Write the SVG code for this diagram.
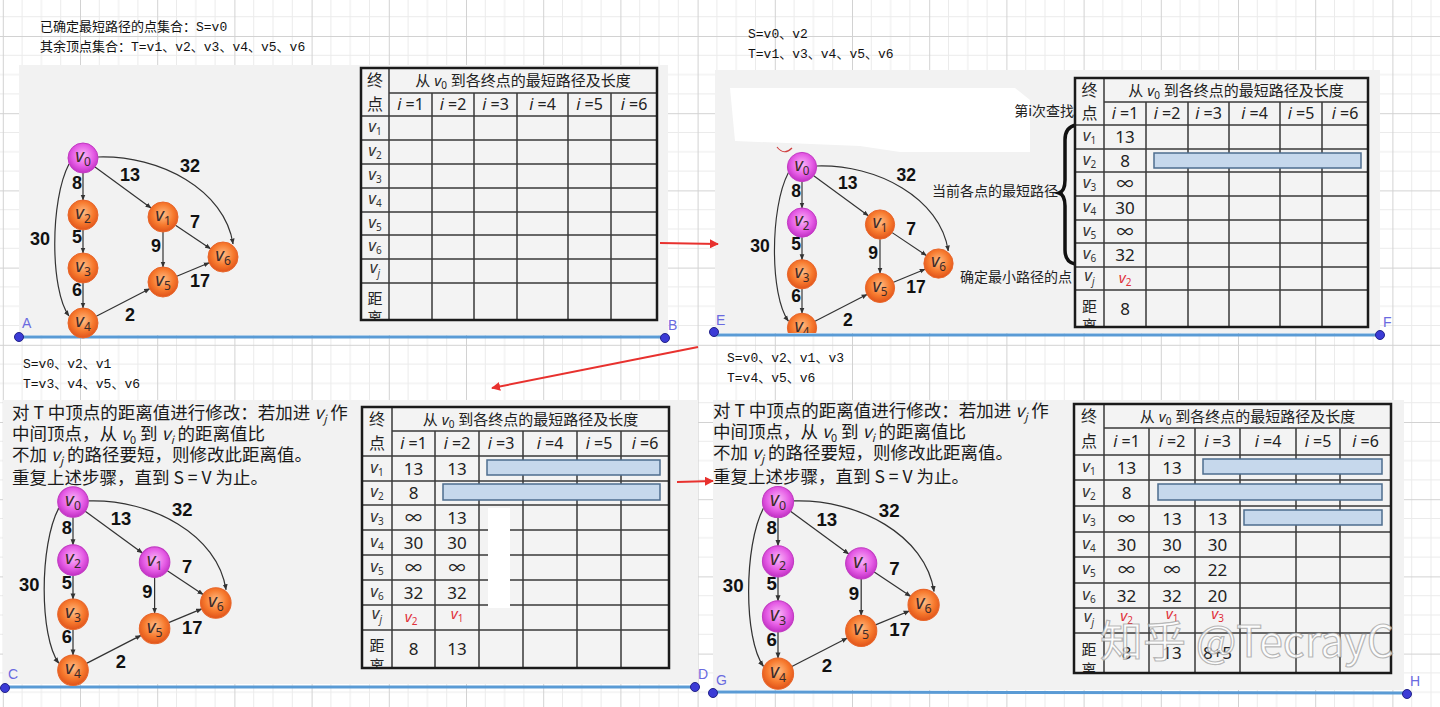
<svg xmlns="http://www.w3.org/2000/svg" width="1440" height="707" viewBox="0 0 1440 707">
<defs>
<style>
.panel{fill:#f2f2f2}
.mono{font-family:"Liberation Mono","Noto Sans CJK SC",monospace;font-size:13px;fill:#111}
.tbg{fill:#f3f3f3}
.tl{stroke:#3a3a3a;stroke-width:1.5;fill:none}
.tb{fill:none;stroke:#1a1a1a;stroke-width:2.5}
.th{font-family:"Noto Sans","Noto Sans CJK SC",sans-serif;font-size:16px;fill:#222;text-anchor:middle}
.tt{font-family:"Noto Sans","Noto Sans CJK SC",sans-serif;font-size:15px;fill:#222;text-anchor:middle}
.td{font-family:"Noto Sans","Noto Sans CJK SC",sans-serif;font-size:17px;fill:#222;text-anchor:middle}
.rl{font-family:"Noto Sans",sans-serif;font-style:italic;font-size:16.5px;fill:#333;text-anchor:middle}
.rv{font-family:"Noto Sans",sans-serif;font-style:italic;font-size:15px;fill:#e0303a;text-anchor:middle}
.bar{fill:#c6d8ec;stroke:#4d6d8f;stroke-width:1.5}
.edge{stroke:#333;stroke-width:1.2;fill:none;marker-end:url(#ah)}
.wt{font-family:"Liberation Sans",Arial,sans-serif;font-weight:bold;font-size:18px;text-anchor:middle;fill:#111}
.nm{fill:url(#gm);stroke:#c23ac2;stroke-width:1}
.no{fill:url(#go);stroke:#e8662a;stroke-width:1}
.nl{font-family:"Noto Sans","DejaVu Sans",sans-serif;font-style:italic;font-size:18.5px;fill:#3a2a2a;text-anchor:middle}
.para{font-family:"Noto Sans CJK SC","Noto Sans",sans-serif;font-size:17.5px;fill:#1a1a1a}
.ann{font-family:"Noto Sans CJK SC",sans-serif;font-size:14px;fill:#222;text-anchor:end}
.axis{stroke:#5a9bd5;stroke-width:3}
.dot{fill:#3b3bd6;stroke:#22228a;stroke-width:1}
.pl{font-family:"Liberation Sans",Arial,sans-serif;font-size:14px;fill:#6a6ae0}
.red{stroke:#e8312e;stroke-width:2;fill:none;marker-end:url(#rah)}
</style>
<pattern id="grid" width="77.2" height="77.2" patternUnits="userSpaceOnUse" x="80" y="36">
<path d="M19.3 0V77.2M38.6 0V77.2M57.9 0V77.2M0 19.3H77.2M0 38.6H77.2M0 57.9H77.2" stroke="#ebebeb" stroke-width="1"/>
<path d="M0.5 0V77.2M0 0.5H77.2" stroke="#d2d2d2" stroke-width="1"/>
</pattern>
<radialGradient id="gm" cx="50%" cy="42%" r="58%">
<stop offset="0" stop-color="#f9b8f7"/><stop offset="0.6" stop-color="#e65ee6"/><stop offset="1" stop-color="#c12fc4"/>
</radialGradient>
<radialGradient id="go" cx="50%" cy="42%" r="58%">
<stop offset="0" stop-color="#ffbd85"/><stop offset="0.6" stop-color="#f77a2e"/><stop offset="1" stop-color="#e0531a"/>
</radialGradient>
<linearGradient id="rg" gradientUnits="userSpaceOnUse" x1="698" y1="347" x2="492" y2="388">
<stop offset="0" stop-color="#e8312e" stop-opacity="0.1"/><stop offset="0.5" stop-color="#e8312e" stop-opacity="0.85"/><stop offset="1" stop-color="#e8312e"/>
</linearGradient>
<marker id="ah" viewBox="0 0 10 10" refX="9" refY="5" markerWidth="5" markerHeight="5" orient="auto"><path d="M0,1 L10,5 L0,9 z" fill="#333"/></marker>
<marker id="rah" viewBox="0 0 10 10" refX="9" refY="5" markerWidth="4.5" markerHeight="4.5" orient="auto"><path d="M0,0 L10,5 L0,10 z" fill="#e8312e"/></marker>
<clipPath id="ct1"><rect x="361" y="68" width="296" height="252"/></clipPath>
<clipPath id="ct2"><rect x="1075" y="78" width="293" height="249"/></clipPath>
<clipPath id="ct3"><rect x="362" y="407" width="307" height="261"/></clipPath>
<clipPath id="ct4"><rect x="1074" y="404" width="317" height="269"/></clipPath>
<clipPath id="cg2"><rect x="715" y="70" width="665" height="263"/></clipPath>
</defs>

<rect width="1440" height="707" fill="#ffffff"/>
<rect width="1440" height="707" fill="url(#grid)"/>

<!-- panels -->
<rect class="panel" x="19" y="65" width="649" height="270"/>
<rect class="panel" x="715" y="70" width="665" height="263"/>
<rect class="panel" x="3" y="400" width="695" height="284"/>
<rect class="panel" x="713" y="400" width="691" height="290"/>
<polygon points="730,88 1015,88 1030,100 1030,152 900,152 860,146 735,141" fill="#ffffff"/>

<!-- set texts -->
<text class="mono" x="40" y="31" font-size="14">已确定最短路径的点集合：S=v0</text>
<text class="mono" x="40" y="51" font-size="14">其余顶点集合：T=v1、v2、v3、v4、v5、v6</text>
<text class="mono" x="748" y="38">S=v0、v2</text>
<text class="mono" x="748" y="58">T=v1、v3、v4、v5、v6</text>
<text class="mono" x="23" y="368">S=v0、v2、v1</text>
<text class="mono" x="23" y="388">T=v3、v4、v5、v6</text>
<text class="mono" x="727" y="362">S=v0、v2、v1、v3</text>
<text class="mono" x="727" y="382">T=v4、v5、v6</text>

<!-- paragraphs -->
<g id="para3">
<text class="para" x="12" y="419">对 T 中顶点的距离值进行修改：若加进 <tspan font-style="italic">v</tspan><tspan font-size="11" dy="4" font-style="italic">j</tspan><tspan dy="-4"> 作</tspan></text>
<text class="para" x="12" y="440">中间顶点，从 <tspan font-style="italic">v</tspan><tspan font-size="11" dy="4">0</tspan><tspan dy="-4"> 到 </tspan><tspan font-style="italic">v</tspan><tspan font-size="11" dy="4" font-style="italic">i</tspan><tspan dy="-4"> 的距离值比</tspan></text>
<text class="para" x="12" y="461">不加 <tspan font-style="italic">v</tspan><tspan font-size="11" dy="4" font-style="italic">j</tspan><tspan dy="-4"> 的路径要短，则修改此距离值。</tspan></text>
<text class="para" x="12" y="484">重复上述步骤，直到 S = V 为止。</text>
</g>
<g id="para4">
<text class="para" x="713" y="417">对 T 中顶点的距离值进行修改：若加进 <tspan font-style="italic">v</tspan><tspan font-size="11" dy="4" font-style="italic">j</tspan><tspan dy="-4"> 作</tspan></text>
<text class="para" x="713" y="438">中间顶点，从 <tspan font-style="italic">v</tspan><tspan font-size="11" dy="4">0</tspan><tspan dy="-4"> 到 </tspan><tspan font-style="italic">v</tspan><tspan font-size="11" dy="4" font-style="italic">i</tspan><tspan dy="-4"> 的距离值比</tspan></text>
<text class="para" x="713" y="459">不加 <tspan font-style="italic">v</tspan><tspan font-size="11" dy="4" font-style="italic">j</tspan><tspan dy="-4"> 的路径要短，则修改此距离值。</tspan></text>
<text class="para" x="713" y="483">重复上述步骤，直到 S = V 为止。</text>
</g>

<!-- annotations panel 2 -->
<g id="annotations">
<text class="ann" x="1074" y="116">第i次查找</text>
<text class="ann" x="1058" y="196">当前各点的最短路径</text>
<text class="ann" x="1072" y="282">确定最小路径的点</text>
<path d="M1076 125 Q1065 127 1065 140 L1065 180 Q1065 191 1059 193 Q1065 195 1065 206 L1065 250 Q1065 262 1075 264" fill="none" stroke="#111" stroke-width="3.5"/>
<path d="M777 147 Q784 156 792 148" fill="none" stroke="#d04040" stroke-width="1.2"/>
</g>

<!-- axis lines -->
<g id="axes">
<line class="axis" x1="19" y1="337" x2="665" y2="337"/>
<line class="axis" x1="714" y1="335" x2="1380" y2="335"/>
<line class="axis" x1="5" y1="687" x2="695" y2="687"/>
<line class="axis" x1="713" y1="692" x2="1407" y2="693"/>
<circle class="dot" cx="19" cy="337" r="4.5"/><text class="pl" x="22" y="328">A</text>
<circle class="dot" cx="665" cy="338" r="4.5"/><text class="pl" x="668" y="330">B</text>
<circle class="dot" cx="714" cy="332" r="4.5"/><text class="pl" x="716" y="325">E</text>
<circle class="dot" cx="1380" cy="335" r="4.5"/><text class="pl" x="1383" y="327">F</text>
<circle class="dot" cx="5" cy="688" r="4.5"/><text class="pl" x="8" y="679">C</text>
<circle class="dot" cx="695" cy="687" r="4.5"/><text class="pl" x="698" y="679">D</text>
<circle class="dot" cx="713" cy="693" r="4.5"/><text class="pl" x="716" y="685">G</text>
<circle class="dot" cx="1407" cy="694" r="4.5"/><text class="pl" x="1410" y="686">H</text>
</g>

<!-- red connectors -->
<g id="connectors-red">
<line class="red" x1="660" y1="243" x2="718" y2="244"/>
<line class="red" x1="698" y1="347" x2="492" y2="388" stroke="url(#rg)"/>
<line class="red" x1="677" y1="482" x2="713" y2="481"/>
</g>

<!-- GRAPH 1 -->
<g id="graph1">
<g id="g1-edges">
<path class="edge" d="M83 173V200"/><path class="edge" d="M83 230V253"/><path class="edge" d="M83 283V308"/>
<path class="edge" d="M95 167L151 208"/><path class="edge" d="M163 232V267"/><path class="edge" d="M175.5 225.3L210.5 248.7"/>
<path class="edge" d="M176.8 276.2L209.2 262.8"/><path class="edge" d="M96.3 316.2L149.6 288.8"/>
<path class="edge" d="M98 157C160 155 225 190 233 244"/><path class="edge" d="M69 164C50 200 50 290 69 316"/>
</g>
<g id="g1-labels">
<text class="wt" x="77" y="189">8</text><text class="wt" x="130" y="181">13</text><text class="wt" x="190" y="172">32</text>
<text class="wt" x="40" y="245">30</text><text class="wt" x="77" y="243">5</text><text class="wt" x="195" y="228">7</text>
<text class="wt" x="156" y="252">9</text><text class="wt" x="77" y="296">6</text><text class="wt" x="200" y="287">17</text><text class="wt" x="130" y="321">2</text>
</g>
<g id="g1-v0"><circle class="nm" cx="83" cy="158" r="15"/><text class="nl" x="83" y="162">v<tspan font-size="12" dy="4" font-style="normal">0</tspan></text></g>
<g id="g1-v2"><circle class="no" cx="83" cy="215" r="15"/><text class="nl" x="83" y="219">v<tspan font-size="12" dy="4" font-style="normal">2</tspan></text></g>
<g id="g1-v3"><circle class="no" cx="83" cy="268" r="15"/><text class="nl" x="83" y="272">v<tspan font-size="12" dy="4" font-style="normal">3</tspan></text></g>
<g id="g1-v4"><circle class="no" cx="83" cy="323" r="15"/><text class="nl" x="83" y="327">v<tspan font-size="12" dy="4" font-style="normal">4</tspan></text></g>
<g id="g1-v1"><circle class="no" cx="163" cy="217" r="15"/><text class="nl" x="163" y="221">v<tspan font-size="12" dy="4" font-style="normal">1</tspan></text></g>
<g id="g1-v5"><circle class="no" cx="163" cy="282" r="15"/><text class="nl" x="163" y="286">v<tspan font-size="12" dy="4" font-style="normal">5</tspan></text></g>
<g id="g1-v6"><circle class="no" cx="223" cy="257" r="15"/><text class="nl" x="223" y="261">v<tspan font-size="12" dy="4" font-style="normal">6</tspan></text></g>
</g>

<!-- GRAPH 2 -->
<g id="graph2" clip-path="url(#cg2)">
<g transform="translate(802,167) scale(0.975) translate(-83,-158)">
<g id="g2-edges">
<path class="edge" d="M83 173V200"/><path class="edge" d="M83 230V253"/><path class="edge" d="M83 283V308"/>
<path class="edge" d="M95 167L151 208"/><path class="edge" d="M163 232V267"/><path class="edge" d="M175.5 225.3L210.5 248.7"/>
<path class="edge" d="M176.8 276.2L209.2 262.8"/><path class="edge" d="M96.3 316.2L149.6 288.8"/>
<path class="edge" d="M98 157C160 155 225 190 233 244"/><path class="edge" d="M69 164C50 200 50 290 69 316"/>
</g>
<g id="g2-labels">
<text class="wt" x="77" y="189">8</text><text class="wt" x="130" y="181">13</text><text class="wt" x="190" y="172">32</text>
<text class="wt" x="40" y="245">30</text><text class="wt" x="77" y="243">5</text><text class="wt" x="195" y="228">7</text>
<text class="wt" x="156" y="252">9</text><text class="wt" x="77" y="296">6</text><text class="wt" x="200" y="287">17</text><text class="wt" x="130" y="321">2</text>
</g>
<g id="g2-v0"><circle class="nm" cx="83" cy="158" r="15"/><text class="nl" x="83" y="162">v<tspan font-size="12" dy="4" font-style="normal">0</tspan></text></g>
<g id="g2-v2"><circle class="nm" cx="83" cy="215" r="15"/><text class="nl" x="83" y="219">v<tspan font-size="12" dy="4" font-style="normal">2</tspan></text></g>
<g id="g2-v3"><circle class="no" cx="83" cy="268" r="15"/><text class="nl" x="83" y="272">v<tspan font-size="12" dy="4" font-style="normal">3</tspan></text></g>
<g id="g2-v4"><circle class="no" cx="83" cy="323" r="15"/><text class="nl" x="83" y="327">v<tspan font-size="12" dy="4" font-style="normal">4</tspan></text></g>
<g id="g2-v1"><circle class="no" cx="163" cy="217" r="15"/><text class="nl" x="163" y="221">v<tspan font-size="12" dy="4" font-style="normal">1</tspan></text></g>
<g id="g2-v5"><circle class="no" cx="163" cy="282" r="15"/><text class="nl" x="163" y="286">v<tspan font-size="12" dy="4" font-style="normal">5</tspan></text></g>
<g id="g2-v6"><circle class="no" cx="223" cy="257" r="15"/><text class="nl" x="223" y="261">v<tspan font-size="12" dy="4" font-style="normal">6</tspan></text></g>
</g>
</g>

<!-- GRAPH 3 -->
<g id="graph3" transform="translate(73,502) scale(1.02) translate(-83,-158)">
<g id="g3-edges">
<path class="edge" d="M83 173V200"/><path class="edge" d="M83 230V253"/><path class="edge" d="M83 283V308"/>
<path class="edge" d="M95 167L151 208"/><path class="edge" d="M163 232V267"/><path class="edge" d="M175.5 225.3L210.5 248.7"/>
<path class="edge" d="M176.8 276.2L209.2 262.8"/><path class="edge" d="M96.3 316.2L149.6 288.8"/>
<path class="edge" d="M98 157C160 155 225 190 233 244"/><path class="edge" d="M69 164C50 200 50 290 69 316"/>
</g>
<g id="g3-labels">
<text class="wt" x="77" y="189">8</text><text class="wt" x="130" y="181">13</text><text class="wt" x="190" y="172">32</text>
<text class="wt" x="40" y="245">30</text><text class="wt" x="77" y="243">5</text><text class="wt" x="195" y="228">7</text>
<text class="wt" x="156" y="252">9</text><text class="wt" x="77" y="296">6</text><text class="wt" x="200" y="287">17</text><text class="wt" x="130" y="321">2</text>
</g>
<g id="g3-v0"><circle class="nm" cx="83" cy="158" r="15"/><text class="nl" x="83" y="162">v<tspan font-size="12" dy="4" font-style="normal">0</tspan></text></g>
<g id="g3-v2"><circle class="nm" cx="83" cy="215" r="15"/><text class="nl" x="83" y="219">v<tspan font-size="12" dy="4" font-style="normal">2</tspan></text></g>
<g id="g3-v3"><circle class="no" cx="83" cy="268" r="15"/><text class="nl" x="83" y="272">v<tspan font-size="12" dy="4" font-style="normal">3</tspan></text></g>
<g id="g3-v4"><circle class="no" cx="83" cy="323" r="15"/><text class="nl" x="83" y="327">v<tspan font-size="12" dy="4" font-style="normal">4</tspan></text></g>
<g id="g3-v1"><circle class="nm" cx="163" cy="217" r="15"/><text class="nl" x="163" y="221">v<tspan font-size="12" dy="4" font-style="normal">1</tspan></text></g>
<g id="g3-v5"><circle class="no" cx="163" cy="282" r="15"/><text class="nl" x="163" y="286">v<tspan font-size="12" dy="4" font-style="normal">5</tspan></text></g>
<g id="g3-v6"><circle class="no" cx="223" cy="257" r="15"/><text class="nl" x="223" y="261">v<tspan font-size="12" dy="4" font-style="normal">6</tspan></text></g>
</g>

<!-- GRAPH 4 -->
<g id="graph4" transform="translate(778,502) scale(1.04) translate(-83,-158)">
<g id="g4-edges">
<path class="edge" d="M83 173V200"/><path class="edge" d="M83 230V253"/><path class="edge" d="M83 283V308"/>
<path class="edge" d="M95 167L151 208"/><path class="edge" d="M163 232V267"/><path class="edge" d="M175.5 225.3L210.5 248.7"/>
<path class="edge" d="M176.8 276.2L209.2 262.8"/><path class="edge" d="M96.3 316.2L149.6 288.8"/>
<path class="edge" d="M98 157C160 155 225 190 233 244"/><path class="edge" d="M69 164C50 200 50 290 69 316"/>
</g>
<g id="g4-labels">
<text class="wt" x="77" y="189">8</text><text class="wt" x="130" y="181">13</text><text class="wt" x="190" y="172">32</text>
<text class="wt" x="40" y="245">30</text><text class="wt" x="77" y="243">5</text><text class="wt" x="195" y="228">7</text>
<text class="wt" x="156" y="252">9</text><text class="wt" x="77" y="296">6</text><text class="wt" x="200" y="287">17</text><text class="wt" x="130" y="321">2</text>
</g>
<g id="g4-v0"><circle class="nm" cx="83" cy="158" r="15"/><text class="nl" x="83" y="162">v<tspan font-size="12" dy="4" font-style="normal">0</tspan></text></g>
<g id="g4-v2"><circle class="nm" cx="83" cy="215" r="15"/><text class="nl" x="83" y="219">v<tspan font-size="12" dy="4" font-style="normal">2</tspan></text></g>
<g id="g4-v3"><circle class="nm" cx="83" cy="268" r="15"/><text class="nl" x="83" y="272">v<tspan font-size="12" dy="4" font-style="normal">3</tspan></text></g>
<g id="g4-v4"><circle class="no" cx="83" cy="323" r="15"/><text class="nl" x="83" y="327">v<tspan font-size="12" dy="4" font-style="normal">4</tspan></text></g>
<g id="g4-v1"><circle class="nm" cx="163" cy="217" r="15"/><text class="nl" x="163" y="221">v<tspan font-size="12" dy="4" font-style="normal">1</tspan></text></g>
<g id="g4-v5"><circle class="no" cx="163" cy="282" r="15"/><text class="nl" x="163" y="286">v<tspan font-size="12" dy="4" font-style="normal">5</tspan></text></g>
<g id="g4-v6"><circle class="no" cx="223" cy="257" r="15"/><text class="nl" x="223" y="261">v<tspan font-size="12" dy="4" font-style="normal">6</tspan></text></g>
</g>

<!-- TABLE 1 -->
<g id="table1">
<rect class="tbg" x="361" y="68" width="296" height="252"/>
<path class="tl" d="M389 93H657M361 116H657M361 140H657M361 164H657M361 188H657M361 212H657M361 235H657M361 259H657M361 283H657M389 68V320M432 93V320M474 93V320M517 93V320M568 93V320M611 93V320"/>
<text class="th" x="375" y="86">终</text><text class="th" x="375" y="110">点</text>
<text class="tt" x="523" y="86">从 <tspan font-style="italic">v</tspan><tspan font-size="10" dy="3">0</tspan><tspan dy="-3"> 到各终点的最短路径及长度</tspan></text>
<text class="th" x="410.5" y="110"><tspan font-style="italic">i</tspan> =1</text>
<text class="th" x="453" y="110"><tspan font-style="italic">i</tspan> =2</text>
<text class="th" x="495.5" y="110"><tspan font-style="italic">i</tspan> =3</text>
<text class="th" x="542.5" y="110"><tspan font-style="italic">i</tspan> =4</text>
<text class="th" x="589.5" y="110"><tspan font-style="italic">i</tspan> =5</text>
<text class="th" x="634" y="110"><tspan font-style="italic">i</tspan> =6</text>
<text class="rl" x="375" y="132">v<tspan font-size="10" dy="3" font-style="normal">1</tspan></text>
<text class="rl" x="375" y="156">v<tspan font-size="10" dy="3" font-style="normal">2</tspan></text>
<text class="rl" x="375" y="180">v<tspan font-size="10" dy="3" font-style="normal">3</tspan></text>
<text class="rl" x="375" y="204">v<tspan font-size="10" dy="3" font-style="normal">4</tspan></text>
<text class="rl" x="375" y="227.5">v<tspan font-size="10" dy="3" font-style="normal">5</tspan></text>
<text class="rl" x="375" y="251">v<tspan font-size="10" dy="3" font-style="normal">6</tspan></text>
<text class="rl" x="375" y="273">v<tspan font-size="10" dy="4">j</tspan></text>
<g clip-path="url(#ct1)"><text class="tt" x="375" y="304">距</text><text class="tt" x="375" y="323">离</text></g>
<rect class="tb" x="361" y="68" width="296" height="252"/>
</g>

<!-- TABLE 2 -->
<g id="table2">
<rect class="tbg" x="1075" y="78" width="293" height="249"/>
<path class="tl" d="M1104 102H1368M1075 125H1368M1075 149H1368M1075 172H1368M1075 196H1368M1075 220H1368M1075 243H1368M1075 267H1368M1075 290H1368M1104 78V327M1146 102V327M1188 102V327M1229 102V327M1280 102V327M1322 102V327"/>
<text class="th" x="1089.5" y="96">终</text><text class="th" x="1089.5" y="119">点</text>
<text class="tt" x="1236" y="96">从 <tspan font-style="italic">v</tspan><tspan font-size="10" dy="3">0</tspan><tspan dy="-3"> 到各终点的最短路径及长度</tspan></text>
<text class="th" x="1125" y="119"><tspan font-style="italic">i</tspan> =1</text>
<text class="th" x="1167" y="119"><tspan font-style="italic">i</tspan> =2</text>
<text class="th" x="1208.5" y="119"><tspan font-style="italic">i</tspan> =3</text>
<text class="th" x="1254.5" y="119"><tspan font-style="italic">i</tspan> =4</text>
<text class="th" x="1301" y="119"><tspan font-style="italic">i</tspan> =5</text>
<text class="th" x="1345" y="119"><tspan font-style="italic">i</tspan> =6</text>
<text class="rl" x="1089.5" y="141">v<tspan font-size="10" dy="3" font-style="normal">1</tspan></text>
<text class="rl" x="1089.5" y="164.5">v<tspan font-size="10" dy="3" font-style="normal">2</tspan></text>
<text class="rl" x="1089.5" y="188">v<tspan font-size="10" dy="3" font-style="normal">3</tspan></text>
<text class="rl" x="1089.5" y="212">v<tspan font-size="10" dy="3" font-style="normal">4</tspan></text>
<text class="rl" x="1089.5" y="235.5">v<tspan font-size="10" dy="3" font-style="normal">5</tspan></text>
<text class="rl" x="1089.5" y="259">v<tspan font-size="10" dy="3" font-style="normal">6</tspan></text>
<text class="rl" x="1089.5" y="281">v<tspan font-size="10" dy="4">j</tspan></text>
<text class="td" x="1125" y="143">13</text>
<text class="td" x="1125" y="166.5">8</text>
<text class="td" x="1125" y="190">∞</text>
<text class="td" x="1125" y="214">30</text>
<text class="td" x="1125" y="237.5">∞</text>
<text class="td" x="1125" y="261">32</text>
<text class="rv" x="1125" y="283">v<tspan font-size="10" dy="3" font-style="normal">2</tspan></text>
<text class="td" x="1125" y="314.5">8</text>
<rect class="bar" x="1154" y="153" width="207" height="15"/>
<g clip-path="url(#ct2)"><text class="tt" x="1089.5" y="312">距</text><text class="tt" x="1089.5" y="331">离</text></g>
<rect class="tb" x="1075" y="78" width="293" height="249"/>
</g>

<!-- TABLE 3 -->
<g id="table3">
<rect class="tbg" x="362" y="407" width="307" height="261"/>
<path class="tl" d="M392 431H669M362 456H669M362 481H669M362 505H669M362 530H669M362 555H669M362 580H669M362 605H669M362 630H669M392 407V668M435 431V668M479 431V668M523 431V668M577 431V668M621 431V668"/>
<text class="th" x="377" y="425">终</text><text class="th" x="377" y="449">点</text>
<text class="tt" x="530.5" y="425">从 <tspan font-style="italic">v</tspan><tspan font-size="10" dy="3">0</tspan><tspan dy="-3"> 到各终点的最短路径及长度</tspan></text>
<text class="th" x="413.5" y="449"><tspan font-style="italic">i</tspan> =1</text>
<text class="th" x="457" y="449"><tspan font-style="italic">i</tspan> =2</text>
<text class="th" x="501" y="449"><tspan font-style="italic">i</tspan> =3</text>
<text class="th" x="550" y="449"><tspan font-style="italic">i</tspan> =4</text>
<text class="th" x="599" y="449"><tspan font-style="italic">i</tspan> =5</text>
<text class="th" x="645" y="449"><tspan font-style="italic">i</tspan> =6</text>
<text class="rl" x="377" y="472.5">v<tspan font-size="10" dy="3" font-style="normal">1</tspan></text>
<text class="rl" x="377" y="497">v<tspan font-size="10" dy="3" font-style="normal">2</tspan></text>
<text class="rl" x="377" y="521.5">v<tspan font-size="10" dy="3" font-style="normal">3</tspan></text>
<text class="rl" x="377" y="546.5">v<tspan font-size="10" dy="3" font-style="normal">4</tspan></text>
<text class="rl" x="377" y="571.5">v<tspan font-size="10" dy="3" font-style="normal">5</tspan></text>
<text class="rl" x="377" y="596.5">v<tspan font-size="10" dy="3" font-style="normal">6</tspan></text>
<text class="rl" x="377" y="619">v<tspan font-size="10" dy="4">j</tspan></text>
<text class="td" x="413.5" y="474.5">13</text><text class="td" x="457" y="474.5">13</text>
<text class="td" x="413.5" y="499">8</text>
<text class="td" x="413.5" y="523.5">∞</text><text class="td" x="457" y="523.5">13</text>
<text class="td" x="413.5" y="548.5">30</text><text class="td" x="457" y="548.5">30</text>
<text class="td" x="413.5" y="573.5">∞</text><text class="td" x="457" y="573.5">∞</text>
<text class="td" x="413.5" y="598.5">32</text><text class="td" x="457" y="598.5">32</text>
<text class="rv" x="411" y="622">v<tspan font-size="10" dy="3" font-style="normal">2</tspan></text>
<text class="rv" x="457" y="619">v<tspan font-size="10" dy="3" font-style="normal">1</tspan></text>
<text class="td" x="413.5" y="655">8</text><text class="td" x="457" y="655">13</text>
<rect class="bar" x="487" y="460" width="173" height="15"/>
<rect class="bar" x="443" y="484" width="217" height="16"/>
<rect x="488" y="508" width="22" height="100" fill="#ffffff"/>
<g clip-path="url(#ct3)"><text class="tt" x="377" y="651">距</text><text class="tt" x="377" y="671">离</text></g>
<rect class="tb" x="362" y="407" width="307" height="261"/>
</g>

<!-- TABLE 4 -->
<g id="table4">
<rect class="tbg" x="1074" y="404" width="317" height="269"/>
<path class="tl" d="M1104 428H1391M1074 455H1391M1074 480H1391M1074 506H1391M1074 532H1391M1074 557H1391M1074 583H1391M1074 608H1391M1074 633H1391M1104 404V673M1149 428V673M1195 428V673M1240 428V673M1296 428V673M1340 428V673"/>
<text class="th" x="1089" y="422">终</text><text class="th" x="1089" y="447">点</text>
<text class="tt" x="1247.5" y="422">从 <tspan font-style="italic">v</tspan><tspan font-size="10" dy="3">0</tspan><tspan dy="-3"> 到各终点的最短路径及长度</tspan></text>
<text class="th" x="1126.5" y="447"><tspan font-style="italic">i</tspan> =1</text>
<text class="th" x="1172" y="447"><tspan font-style="italic">i</tspan> =2</text>
<text class="th" x="1217.5" y="447"><tspan font-style="italic">i</tspan> =3</text>
<text class="th" x="1268" y="447"><tspan font-style="italic">i</tspan> =4</text>
<text class="th" x="1318" y="447"><tspan font-style="italic">i</tspan> =5</text>
<text class="th" x="1365.5" y="447"><tspan font-style="italic">i</tspan> =6</text>
<text class="rl" x="1089" y="471.5">v<tspan font-size="10" dy="3" font-style="normal">1</tspan></text>
<text class="rl" x="1089" y="497">v<tspan font-size="10" dy="3" font-style="normal">2</tspan></text>
<text class="rl" x="1089" y="523">v<tspan font-size="10" dy="3" font-style="normal">3</tspan></text>
<text class="rl" x="1089" y="548.5">v<tspan font-size="10" dy="3" font-style="normal">4</tspan></text>
<text class="rl" x="1089" y="574">v<tspan font-size="10" dy="3" font-style="normal">5</tspan></text>
<text class="rl" x="1089" y="599.5">v<tspan font-size="10" dy="3" font-style="normal">6</tspan></text>
<text class="rl" x="1089" y="622">v<tspan font-size="10" dy="4">j</tspan></text>
<text class="td" x="1126.5" y="473.5">13</text><text class="td" x="1172" y="473.5">13</text>
<text class="td" x="1126.5" y="499">8</text>
<text class="td" x="1126.5" y="525">∞</text><text class="td" x="1172" y="525">13</text><text class="td" x="1217.5" y="525">13</text>
<text class="td" x="1126.5" y="550.5">30</text><text class="td" x="1172" y="550.5">30</text><text class="td" x="1217.5" y="550.5">30</text>
<text class="td" x="1126.5" y="576">∞</text><text class="td" x="1172" y="576">∞</text><text class="td" x="1217.5" y="576">22</text>
<text class="td" x="1126.5" y="601.5">32</text><text class="td" x="1172" y="601.5">32</text><text class="td" x="1217.5" y="601.5">20</text>
<text class="rv" x="1126.5" y="621">v<tspan font-size="10" dy="3" font-style="normal">2</tspan></text>
<text class="rv" x="1172" y="619">v<tspan font-size="10" dy="3" font-style="normal">1</tspan></text>
<text class="rv" x="1217.5" y="619">v<tspan font-size="10" dy="3" font-style="normal">3</tspan></text>
<text class="td" x="1126.5" y="659">8</text><text class="td" x="1172" y="659">13</text><text class="td" x="1217.5" y="659">8+5</text>
<rect class="bar" x="1203" y="459" width="179" height="15"/>
<rect class="bar" x="1158" y="484" width="224" height="16"/>
<rect class="bar" x="1244" y="510" width="138" height="15"/>
<g clip-path="url(#ct4)"><text class="tt" x="1089" y="655">距</text><text class="tt" x="1089" y="675">离</text></g>
<rect class="tb" x="1074" y="404" width="317" height="269"/>
</g>

<!-- watermark -->
<text x="1100" y="657" font-family="'Noto Sans CJK SC','Noto Sans',sans-serif" font-size="43" fill="#ffffff" fill-opacity="0.8" stroke="#8a8a8a" stroke-opacity="0.6" stroke-width="1.2">知乎 @TecrayC</text>
</svg>
